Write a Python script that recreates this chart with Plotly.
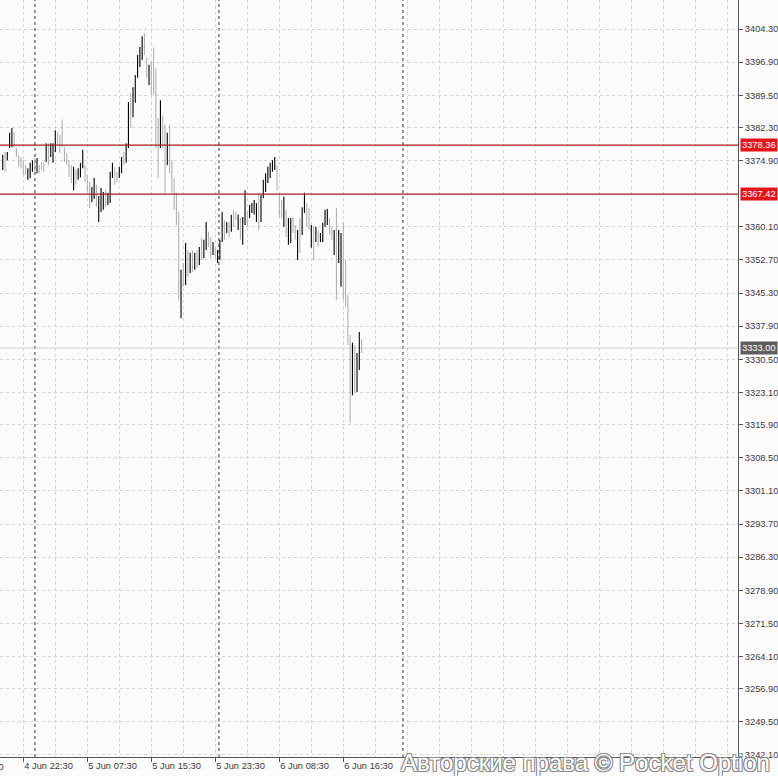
import plotly.graph_objects as go

# ---- data (M-bars, high/low and direction) ----
highs = [
    3376.2, 3376.8, 3376.8, 3381.1, 3382.2, 3381.3, 3377.7, 3376.2, 3375.7, 3375.0,
    3373.9, 3373.2, 3374.4, 3375.0, 3375.5, 3375.5, 3373.9, 3374.6, 3374.4, 3378.8,
    3378.8, 3378.8, 3378.8, 3381.7, 3381.3, 3380.6, 3384.0, 3377.9, 3376.6, 3375.0,
    3373.9, 3373.5, 3372.8, 3373.2, 3374.4, 3377.3, 3373.9, 3371.7, 3370.1, 3369.0,
    3371.0, 3369.5, 3367.0, 3368.8, 3367.9, 3368.3, 3367.7, 3372.4, 3374.4, 3373.5,
    3372.4, 3373.5, 3375.7, 3376.8, 3378.8, 3388.0, 3390.0, 3391.3, 3394.0, 3398.5,
    3400.3, 3402.7, 3403.4, 3397.8, 3396.3, 3396.9, 3400.1, 3395.6, 3384.4, 3388.4,
    3385.1, 3382.9, 3381.1, 3382.9, 3375.0, 3371.0, 3367.7, 3363.4, 3350.5, 3352.0,
    3356.5, 3354.9, 3354.3, 3354.9, 3354.3, 3354.9, 3355.6, 3357.6, 3357.2, 3361.2,
    3359.0, 3357.8, 3356.7, 3355.4, 3354.9, 3357.2, 3363.4, 3361.6, 3361.2, 3361.2,
    3362.8, 3363.9, 3363.4, 3362.8, 3362.1, 3362.3, 3368.3, 3363.4, 3365.0, 3365.4,
    3366.1, 3365.4, 3367.7, 3367.2, 3370.6, 3372.1, 3373.5, 3374.4, 3375.0, 3375.7,
    3373.9, 3367.2, 3366.1, 3366.8, 3363.9, 3362.1, 3362.1, 3362.3, 3360.5, 3359.4,
    3362.1, 3364.5, 3367.7, 3365.4, 3364.3, 3360.5, 3360.1, 3360.1, 3359.4, 3358.7,
    3361.0, 3363.9, 3364.1, 3362.1, 3360.1, 3359.4, 3364.3, 3359.4, 3358.7, 3361.0,
    3352.7, 3344.9, 3335.9, 3334.2, 3333.7, 3331.9, 3336.6, 3335.0,
]
lows = [
    3372.8, 3372.4, 3375.0, 3377.7, 3377.9, 3377.9, 3375.7, 3373.5, 3373.2, 3371.7,
    3371.7, 3370.6, 3371.0, 3372.4, 3372.4, 3372.1, 3372.1, 3372.8, 3372.4, 3374.6,
    3373.9, 3375.7, 3374.4, 3376.8, 3378.4, 3376.6, 3377.9, 3374.6, 3373.9, 3371.2,
    3369.9, 3368.3, 3369.5, 3370.6, 3371.2, 3373.2, 3370.1, 3367.9, 3364.3, 3365.6,
    3366.3, 3364.5, 3361.2, 3363.4, 3363.9, 3364.5, 3365.0, 3365.4, 3371.0, 3369.5,
    3370.1, 3371.0, 3372.1, 3373.9, 3374.4, 3377.7, 3382.2, 3384.6, 3387.8, 3393.4,
    3395.8, 3397.4, 3398.5, 3393.4, 3391.8, 3389.6, 3389.6, 3377.7, 3371.0, 3377.7,
    3377.7, 3367.7, 3373.9, 3372.1, 3367.7, 3363.9, 3360.5, 3343.8, 3339.7, 3346.7,
    3347.1, 3348.9, 3349.8, 3350.0, 3350.5, 3350.9, 3351.6, 3352.7, 3353.1, 3354.9,
    3355.6, 3353.1, 3353.8, 3353.1, 3352.0, 3352.7, 3356.7, 3357.2, 3358.7, 3357.8,
    3359.0, 3360.1, 3361.6, 3359.4, 3357.2, 3356.1, 3360.5, 3360.1, 3362.1, 3363.2,
    3362.8, 3361.2, 3359.4, 3361.2, 3366.5, 3367.9, 3369.9, 3371.0, 3372.4, 3372.8,
    3368.3, 3362.3, 3362.1, 3360.1, 3357.8, 3356.1, 3356.5, 3358.7, 3357.2, 3352.7,
    3354.3, 3358.3, 3363.2, 3360.1, 3359.4, 3355.4, 3352.7, 3356.7, 3355.6, 3356.7,
    3356.7, 3360.1, 3360.5, 3358.3, 3357.2, 3353.8, 3343.8, 3352.0, 3346.7, 3343.8,
    3342.2, 3333.7, 3316.3, 3322.5, 3323.0, 3323.2, 3328.1, 3331.9,
]
# B = bullish bar (black), G = bearish bar (grey)
direction = list(
    "BGBBBGGGGG" "GBBBGBGGGB" "GBBBGGGGGG" "GBGBBBGGGB" "BGBBBGBBBG"
    "GBBGBBGBBB" "BBGGBGGGGB" "GGBGGGGGBG" "BGBGBGBGBB" "GGBGBBBGBG"
    "BGGBGBBGBB" "BBGBBBBBBB" "GGGBGBBGGB" "GBBGGBGBGB" "BBBGGBGBBG"
    "GGGBGBBG"
)

time_labels = ["4 Jun 22:30", "5 Jun 07:30", "5 Jun 15:30",
               "5 Jun 23:30", "6 Jun 08:30", "6 Jun 16:30"]
label_bars = [9, 37, 65, 93, 121, 149]
cut_label = "4 Jun 14:30"
price_ticks = [3404.30, 3396.90, 3389.50, 3382.30, 3374.90, 3360.10, 3352.70,
               3345.30, 3337.90, 3330.50, 3323.10, 3315.90, 3308.50, 3301.10,
               3293.70, 3286.30, 3278.90, 3271.50, 3264.10, 3256.90, 3249.50,
               3242.10]
level_lines = [3378.36, 3367.42]
current_price = 3333.00
day_separators = [14.1, 94.6, 175.1]

# ---- build figure ----
xu, yu, xd, yd = [], [], [], []
for i, (h, l, d) in enumerate(zip(highs, lows, direction)):
    if d == "B":
        xu += [i, i, None]; yu += [l, h, None]
    else:
        xd += [i, i, None]; yd += [l, h, None]

fig = go.Figure()
fig.add_trace(go.Scatter(x=xd, y=yd, mode="lines", line=dict(color="#b2b2b2", width=1.1),
                         hoverinfo="skip", showlegend=False))
fig.add_trace(go.Scatter(x=xu, y=yu, mode="lines", line=dict(color="#000000", width=1.1),
                         hoverinfo="skip", showlegend=False))

bar_px = 16 / 7.0
x_first_px = 2.73
plot_w = 738
x_lo = -x_first_px / bar_px
x_hi = x_lo + plot_w / bar_px
grid_bars = [label_bars[0] + 14 * k for k in range(-1, 23)]

axis_col = "#555555"
grid_col = "#d4d4d4"
tick_font = dict(family="Liberation Sans, Arial, sans-serif", size=9.3, color="#3a3a3a")

fig.update_xaxes(
    range=[x_lo, x_hi], tickmode="array", tickvals=label_bars, ticktext=time_labels,
    ticklabelposition="outside right", ticks="outside", ticklen=4, tickcolor=axis_col,
    showgrid=True, gridcolor=grid_col, griddash="3px,3px", gridwidth=1,
    minor=dict(tickvals=grid_bars, showgrid=True, gridcolor=grid_col,
               griddash="3px,3px", gridwidth=1, ticks=""),
    showline=True, linecolor=axis_col, linewidth=1, zeroline=False,
    tickfont=tick_font, automargin=False, fixedrange=True,
)
fig.update_yaxes(
    range=[3241.65, 3410.78], side="right", tickmode="array", tickvals=price_ticks,
    ticktext=[f"{v:.2f}" for v in price_ticks], ticks="outside", ticklen=4,
    tickcolor=axis_col, showgrid=True, gridcolor=grid_col, griddash="3px,3px",
    gridwidth=1, showline=True, linecolor=axis_col, linewidth=1, zeroline=False,
    tickfont=tick_font, automargin=False, fixedrange=True,
)

shapes = []
for ds in day_separators:
    shapes.append(dict(type="line", xref="x", yref="paper", x0=ds, x1=ds, y0=0, y1=1,
                       line=dict(color="#333333", width=1, dash="3px,3px"), layer="below"))
shapes.append(dict(type="line", xref="paper", yref="y", x0=0, x1=1, y0=current_price,
                   y1=current_price, line=dict(color="#cccccc", width=1), layer="below"))
for lv in level_lines:
    shapes.append(dict(type="line", xref="paper", yref="y", x0=0, x1=1, y0=lv, y1=lv,
                       line=dict(color="#a81c1c", width=1.2), layer="above"))

label_font = dict(family="Liberation Sans, Arial", size=9.3, color="white")
annotations = []
for lv in level_lines:
    annotations.append(dict(xref="paper", yref="y", x=1, y=lv, xanchor="left", yanchor="middle",
                            xshift=2, text=f"{lv:.2f}", showarrow=False, bgcolor="#e3141c",
                            borderpad=1, font=label_font))
annotations.append(dict(xref="paper", yref="y", x=1, y=current_price, xanchor="left",
                        yanchor="middle", xshift=2, text=f"{current_price:.2f}", showarrow=False,
                        bgcolor="#5e5e5e", borderpad=1, font=label_font))
annotations.append(dict(xref="paper", yref="paper", x=0, y=0, xanchor="right", yanchor="top",
                        xshift=6, yshift=-3, text=cut_label, showarrow=False, font=tick_font))
annotations.append(dict(xref="paper", yref="paper", x=1, y=0, xanchor="right", yanchor="middle",
                        xshift=34, yshift=-5, text="Авторские права © Pocket Option",
                        showarrow=False,
                        font=dict(family="Liberation Sans, Arial", size=24, color="white",
                                  shadow="-1px -1px 0 #8c8c8c, 1px -1px 0 #8c8c8c, "
                                         "-1px 1px 0 #8c8c8c, 1px 1px 0 #8c8c8c")))

fig.update_layout(
    width=778, height=776, margin=dict(l=0, r=40, t=0, b=19),
    paper_bgcolor="#fefbfe", plot_bgcolor="#fefbfe",
    shapes=shapes, annotations=annotations, showlegend=False,
)

fig.write_html(
    "out.html",
    config={"displayModeBar": False},
    post_script="document.body.style.margin='0';document.body.style.overflow='hidden';",
)
